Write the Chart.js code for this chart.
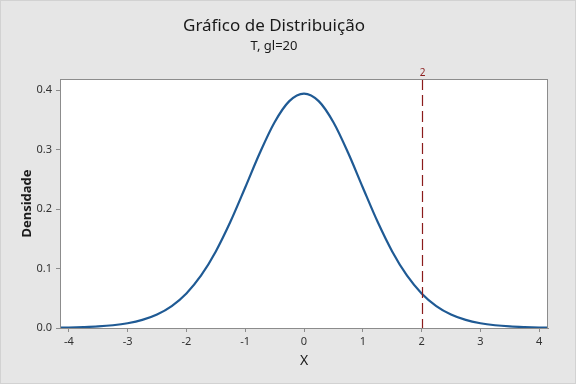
<!DOCTYPE html>
<html>
<head>
<meta charset="utf-8">
<script src="https://cdn.jsdelivr.net/npm/chart.js@4.4.1/dist/chart.umd.min.js"></script>
<style>
    html, body { margin: 0; padding: 0; background: #e6e6e6; }
    #dist { display: block; }
</style>
</head>
<body>
<canvas id="dist" width="576" height="384"></canvas>
<script>
// valores (t, gl=20)
const xValues = [-4.15, -4, -3.75, -3.5, -3.25, -3, -2.75, -2.5, -2.25, -2, -1.75, -1.5, -1.25, -1, -0.75, -0.5, -0.25,
    0, 0.25, 0.5, 0.75, 1, 1.25, 1.5, 1.75, 2, 2.25, 2.5, 2.75, 3, 3.25, 3.5, 3.75, 4, 4.15];
const density = [0.0006, 0.0008, 0.0015, 0.0026, 0.0046, 0.0080, 0.0136, 0.0227, 0.0369, 0.0581, 0.0883, 0.1287, 0.1789, 0.2361, 0.2945, 0.3458, 0.3813,
    0.3940, 0.3813, 0.3458, 0.2945, 0.2361, 0.1789, 0.1287, 0.0883, 0.0581, 0.0369, 0.0227, 0.0136, 0.0080, 0.0046, 0.0026, 0.0015, 0.0008, 0.0006];
const xTicks = [-4, -3, -2, -1, 0, 1, 2, 3, 4];
const yTicks = [0, 0.1, 0.2, 0.3, 0.4];
const cutoff = 2;

const FONT = '"Noto Sans", "Open Sans", sans-serif';

const frame = {
    id: 'frame',
    beforeDraw(chart) {
        const {ctx, chartArea: a} = chart;
        ctx.save();
        ctx.fillStyle = '#e6e6e6';
        ctx.fillRect(0, 0, chart.width, chart.height);
        ctx.strokeStyle = '#d2d2d2';
        ctx.strokeRect(0.5, 0.5, chart.width - 1, chart.height - 1);
        ctx.fillStyle = '#ffffff';
        ctx.fillRect(a.left, a.top, a.right - a.left, a.bottom - a.top);
        ctx.restore();
    },
    afterDraw(chart) {
        const {ctx, chartArea: a, scales} = chart;
        const px = Math.round(scales.x.getPixelForValue(cutoff)) + 0.5;
        ctx.save();
        ctx.strokeStyle = '#8b1c1c';
        ctx.lineWidth = 1.2;
        ctx.setLineDash([11, 5]);
        ctx.beginPath();
        ctx.moveTo(px, a.top);
        ctx.lineTo(px, a.bottom);
        ctx.stroke();
        ctx.setLineDash([]);
        ctx.fillStyle = '#8b1c1c';
        ctx.font = '10px ' + FONT;
        ctx.textAlign = 'center';
        ctx.textBaseline = 'bottom';
        ctx.fillText(String(cutoff), px, a.top - 1);
        ctx.strokeStyle = '#8c8c8c';
        ctx.lineWidth = 1;
        ctx.strokeRect(a.left + 0.5, a.top + 0.5, a.right - a.left - 1, a.bottom - a.top);
        ctx.restore();
    }
};

new Chart(document.getElementById('dist'), {
    type: 'line',
    data: {
        datasets: [{
            data: xValues.map((x, i) => ({x: x, y: density[i]})),
            borderColor: '#1f5a94',
            borderWidth: 2.2,
            pointRadius: 0,
            cubicInterpolationMode: 'monotone',
            fill: false
        }]
    },
    options: {
        responsive: false,
        animation: false,
        layout: {padding: {left: 0, right: 28, top: 0, bottom: 0}},
        plugins: {
            legend: {display: false},
            tooltip: {enabled: false},
            title: {
                display: true,
                text: 'Gráfico de Distribuição',
                color: '#1a1a1a',
                font: {family: FONT, size: 17, weight: 'normal', lineHeight: 1.2},
                padding: {top: 16, bottom: 0}
            },
            subtitle: {
                display: true,
                text: 'T, gl=20',
                color: '#1a1a1a',
                font: {family: FONT, size: 13, weight: 'normal', lineHeight: 1.2},
                padding: {top: 2, bottom: 25}
            }
        },
        scales: {
            x: {
                type: 'linear',
                min: -4.15,
                max: 4.15,
                afterFit: s => { s.height = 56; },
                afterBuildTicks: s => { s.ticks = xTicks.map(v => ({value: v})); },
                ticks: {
                    color: '#333333',
                    font: {family: FONT, size: 11},
                    padding: 3,
                    maxRotation: 0
                },
                grid: {display: true, drawOnChartArea: false, drawTicks: true, tickLength: 4, color: '#8c8c8c'},
                border: {display: true, color: '#8c8c8c'},
                title: {
                    display: true,
                    text: 'X',
                    color: '#1a1a1a',
                    font: {family: FONT, size: 14},
                    padding: {top: 0, bottom: 15}
                }
            },
            y: {
                min: 0,
                max: 0.4185,
                afterFit: s => { s.width = 60; },
                afterBuildTicks: s => { s.ticks = yTicks.map(v => ({value: v})); },
                ticks: {
                    color: '#333333',
                    font: {family: FONT, size: 11},
                    padding: 4,
                    callback: v => v.toFixed(1)
                },
                grid: {display: true, drawOnChartArea: false, drawTicks: true, tickLength: 4, color: '#8c8c8c'},
                border: {display: true, color: '#8c8c8c'},
                title: {
                    display: true,
                    text: 'Densidade',
                    color: '#1a1a1a',
                    font: {family: FONT, size: 13, weight: 'bold'},
                    padding: {top: 19, bottom: 0}
                }
            }
        }
    },
    plugins: [frame]
});
</script>
</body>
</html>
